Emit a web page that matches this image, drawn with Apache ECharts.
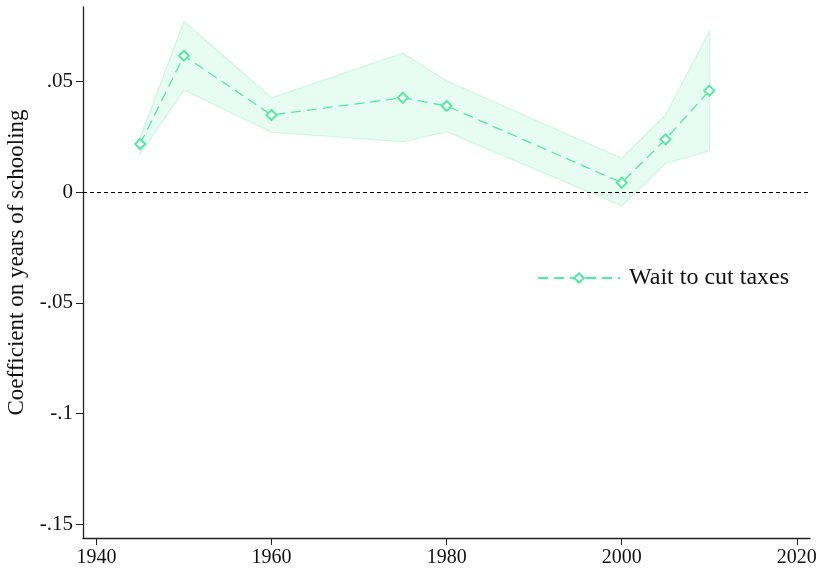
<!DOCTYPE html>
<html>
<head>
<meta charset="utf-8">
<script src="https://cdn.jsdelivr.net/npm/echarts@6/dist/echarts.min.js"></script>
<style>html,body{margin:0;padding:0;background:#fff;}#c{width:821px;height:569px;}</style>
</head>
<body>
<div id="c"></div>
<script>
var years = [1945, 1950, 1960, 1975, 1980, 2000, 2005, 2010];
var coef  = [0.0218, 0.0617, 0.0349, 0.0427, 0.0390, 0.0043, 0.0239, 0.0459];
var upper = [0.0245, 0.0771, 0.0427, 0.0628, 0.0503, 0.0154, 0.0348, 0.0726];
var lower = [0.0173, 0.0462, 0.0271, 0.0229, 0.0274, -0.0061, 0.0131, 0.0187];
var yTicks = [0.05, 0, -0.05, -0.1, -0.15];
var yTickLabels = ['.05', '0', '-.05', '-.1', '-.15'];
var xTicks = [1940, 1960, 1980, 2000, 2020];
var seriesName = 'Wait to cut taxes';
var yTitle = 'Coefficient on years of schooling';

var lineColor = '#52eba3';
var font = '"Liberation Serif", "Times New Roman", serif';

var bandData = years.map(function (y, i) { return [y, lower[i], upper[i]]; });
var coefData = years.map(function (y, i) { return [y, coef[i]]; });

var chart = echarts.init(document.getElementById('c'));
chart.setOption({
  animation: false,
  backgroundColor: '#ffffff',
  grid: { left: 83, top: 7, right: 11, bottom: 31, containLabel: false, outerBoundsMode: 'none' },
  legend: {
    data: [seriesName],
    left: 532, top: 261,
    itemWidth: 82, itemHeight: 12,
    textStyle: { fontFamily: font, fontSize: 24, color: '#111', padding: [0, 0, 0, 4] },
    itemGap: 10
  },
  xAxis: {
    type: 'value', min: 1938.47, max: 2021.5,
    axisLine: { show: true, onZero: false, lineStyle: { color: '#222', width: 1.3 } },
    axisTick: { show: true, length: 7, lineStyle: { color: '#222' }, customValues: xTicks },
    axisLabel: { fontFamily: font, fontSize: 20, color: '#111', margin: 10,
      customValues: xTicks,
      formatter: function (v) { return String(v); } },
    splitLine: { show: false }
  },
  yAxis: {
    type: 'value', min: -0.1562, max: 0.0837,
    axisLine: { show: true, onZero: false, lineStyle: { color: '#222', width: 1.3 } },
    axisTick: { show: true, length: 7, lineStyle: { color: '#222' }, customValues: yTicks },
    axisLabel: { fontFamily: font, fontSize: 21, color: '#111', margin: 10,
      customValues: yTicks,
      formatter: function (v) {
        for (var i = 0; i < yTicks.length; i++) { if (Math.abs(v - yTicks[i]) < 1e-9) return yTickLabels[i]; }
        return '';
      } },
    splitLine: { show: false },
    name: yTitle, nameLocation: 'middle', nameGap: 54,
    nameTextStyle: { fontFamily: font, fontSize: 23, color: '#111', padding: [0, 0, 0, 20] }
  },
  series: [
    {
      type: 'custom', name: 'band', data: bandData, silent: true, z: 1,
      encode: { x: 0, y: [1, 2] },
      renderItem: function (params, api) {
        if (params.dataIndex !== 0) return null;
        var pts = [];
        for (var i = 0; i < bandData.length; i++) pts.push(api.coord([bandData[i][0], bandData[i][2]]));
        for (var j = bandData.length - 1; j >= 0; j--) pts.push(api.coord([bandData[j][0], bandData[j][1]]));
        return {
          type: 'polygon',
          shape: { points: pts },
          style: { fill: '#e7fcf2', stroke: '#cdf8e4', lineWidth: 1.2 }
        };
      }
    },
    {
      type: 'line', name: seriesName, data: coefData,
      symbol: 'diamond', symbolSize: 10,
      itemStyle: { color: '#ffffff', borderColor: lineColor, borderWidth: 2 },
      lineStyle: { color: lineColor, width: 1.3, type: [10, 6] },
      z: 5,
      markLine: {
        silent: true, symbol: 'none', label: { show: false },
        lineStyle: { color: '#000', type: [4, 3], width: 1.2 },
        data: [{ yAxis: 0 }]
      }
    }
  ]
});
</script>
</body>
</html>
